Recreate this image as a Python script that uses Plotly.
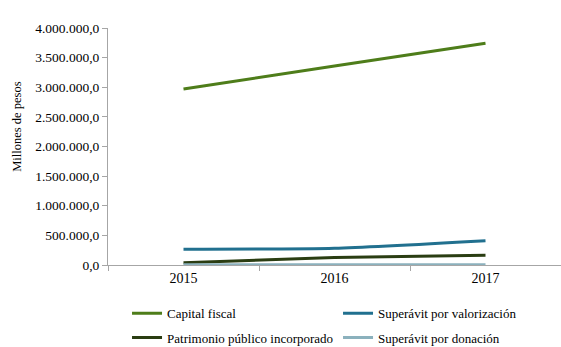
import plotly.graph_objects as go

years = ["2015", "2016", "2017"]
capital_fiscal = [2970000, 3360000, 3742000]
superavit_valorizacion = [265000, 282000, 410000]
patrimonio_incorporado = [40000, 128000, 164000]
superavit_donacion = [5000, 5000, 5000]

series = [
    ("Capital fiscal", capital_fiscal, "#4E7D1A", "legend"),
    ("Superávit por valorización", superavit_valorizacion, "#21708F", "legend"),
    ("Patrimonio público incorporado", patrimonio_incorporado, "#2A3D12", "legend2"),
    ("Superávit por donación", superavit_donacion, "#8BB1BD", "legend2"),
]

fig = go.Figure()
for name, vals, color, lg in series:
    fig.add_trace(go.Scatter(
        x=years, y=vals, name=name, mode="lines", legend=lg,
        line=dict(color=color, width=3, shape="spline", smoothing=0.6),
    ))

font_family = "Liberation Serif, Times New Roman, serif"
legend_common = dict(
    orientation="h", xanchor="left", yanchor="top",
    entrywidth=166, entrywidthmode="pixels",
    font=dict(family=font_family, size=13, color="black"),
    bgcolor="rgba(0,0,0,0)",
)
fig.update_layout(
    width=561, height=347,
    margin=dict(l=108, r=0, t=28, b=82, autoexpand=False),
    paper_bgcolor="white", plot_bgcolor="white",
    separators=",.",
    font=dict(family=font_family, size=13, color="black"),
    showlegend=True,
    legend=dict(x=0.042, y=-0.141, **legend_common),
    legend2=dict(x=0.042, y=-0.243, **legend_common),
    xaxis=dict(
        type="category", range=[-0.5, 2.5],
        showline=True, linecolor="#A6A6A6", linewidth=1,
        ticks="outside", tickson="boundaries", ticklen=5, tickcolor="#A6A6A6",
        showgrid=False, tickfont=dict(size=14),
    ),
    yaxis=dict(
        range=[0, 4000000], dtick=500000, tickformat=",.1f",
        showline=True, linecolor="#A6A6A6", linewidth=1,
        ticks="outside", ticklen=5, tickcolor="#A6A6A6",
        showgrid=False, zeroline=False, tickfont=dict(size=13.5),
    ),
    annotations=[dict(
        text="Millones de pesos", textangle=-90, showarrow=False,
        xref="paper", yref="paper", x=-0.2, y=0.585, xanchor="center", yanchor="middle",
        font=dict(family=font_family, size=12.5, color="black"),
    )],
)

fig.write_html("out.html", post_script="document.body.style.margin='0';",
               config={"displayModeBar": False})
